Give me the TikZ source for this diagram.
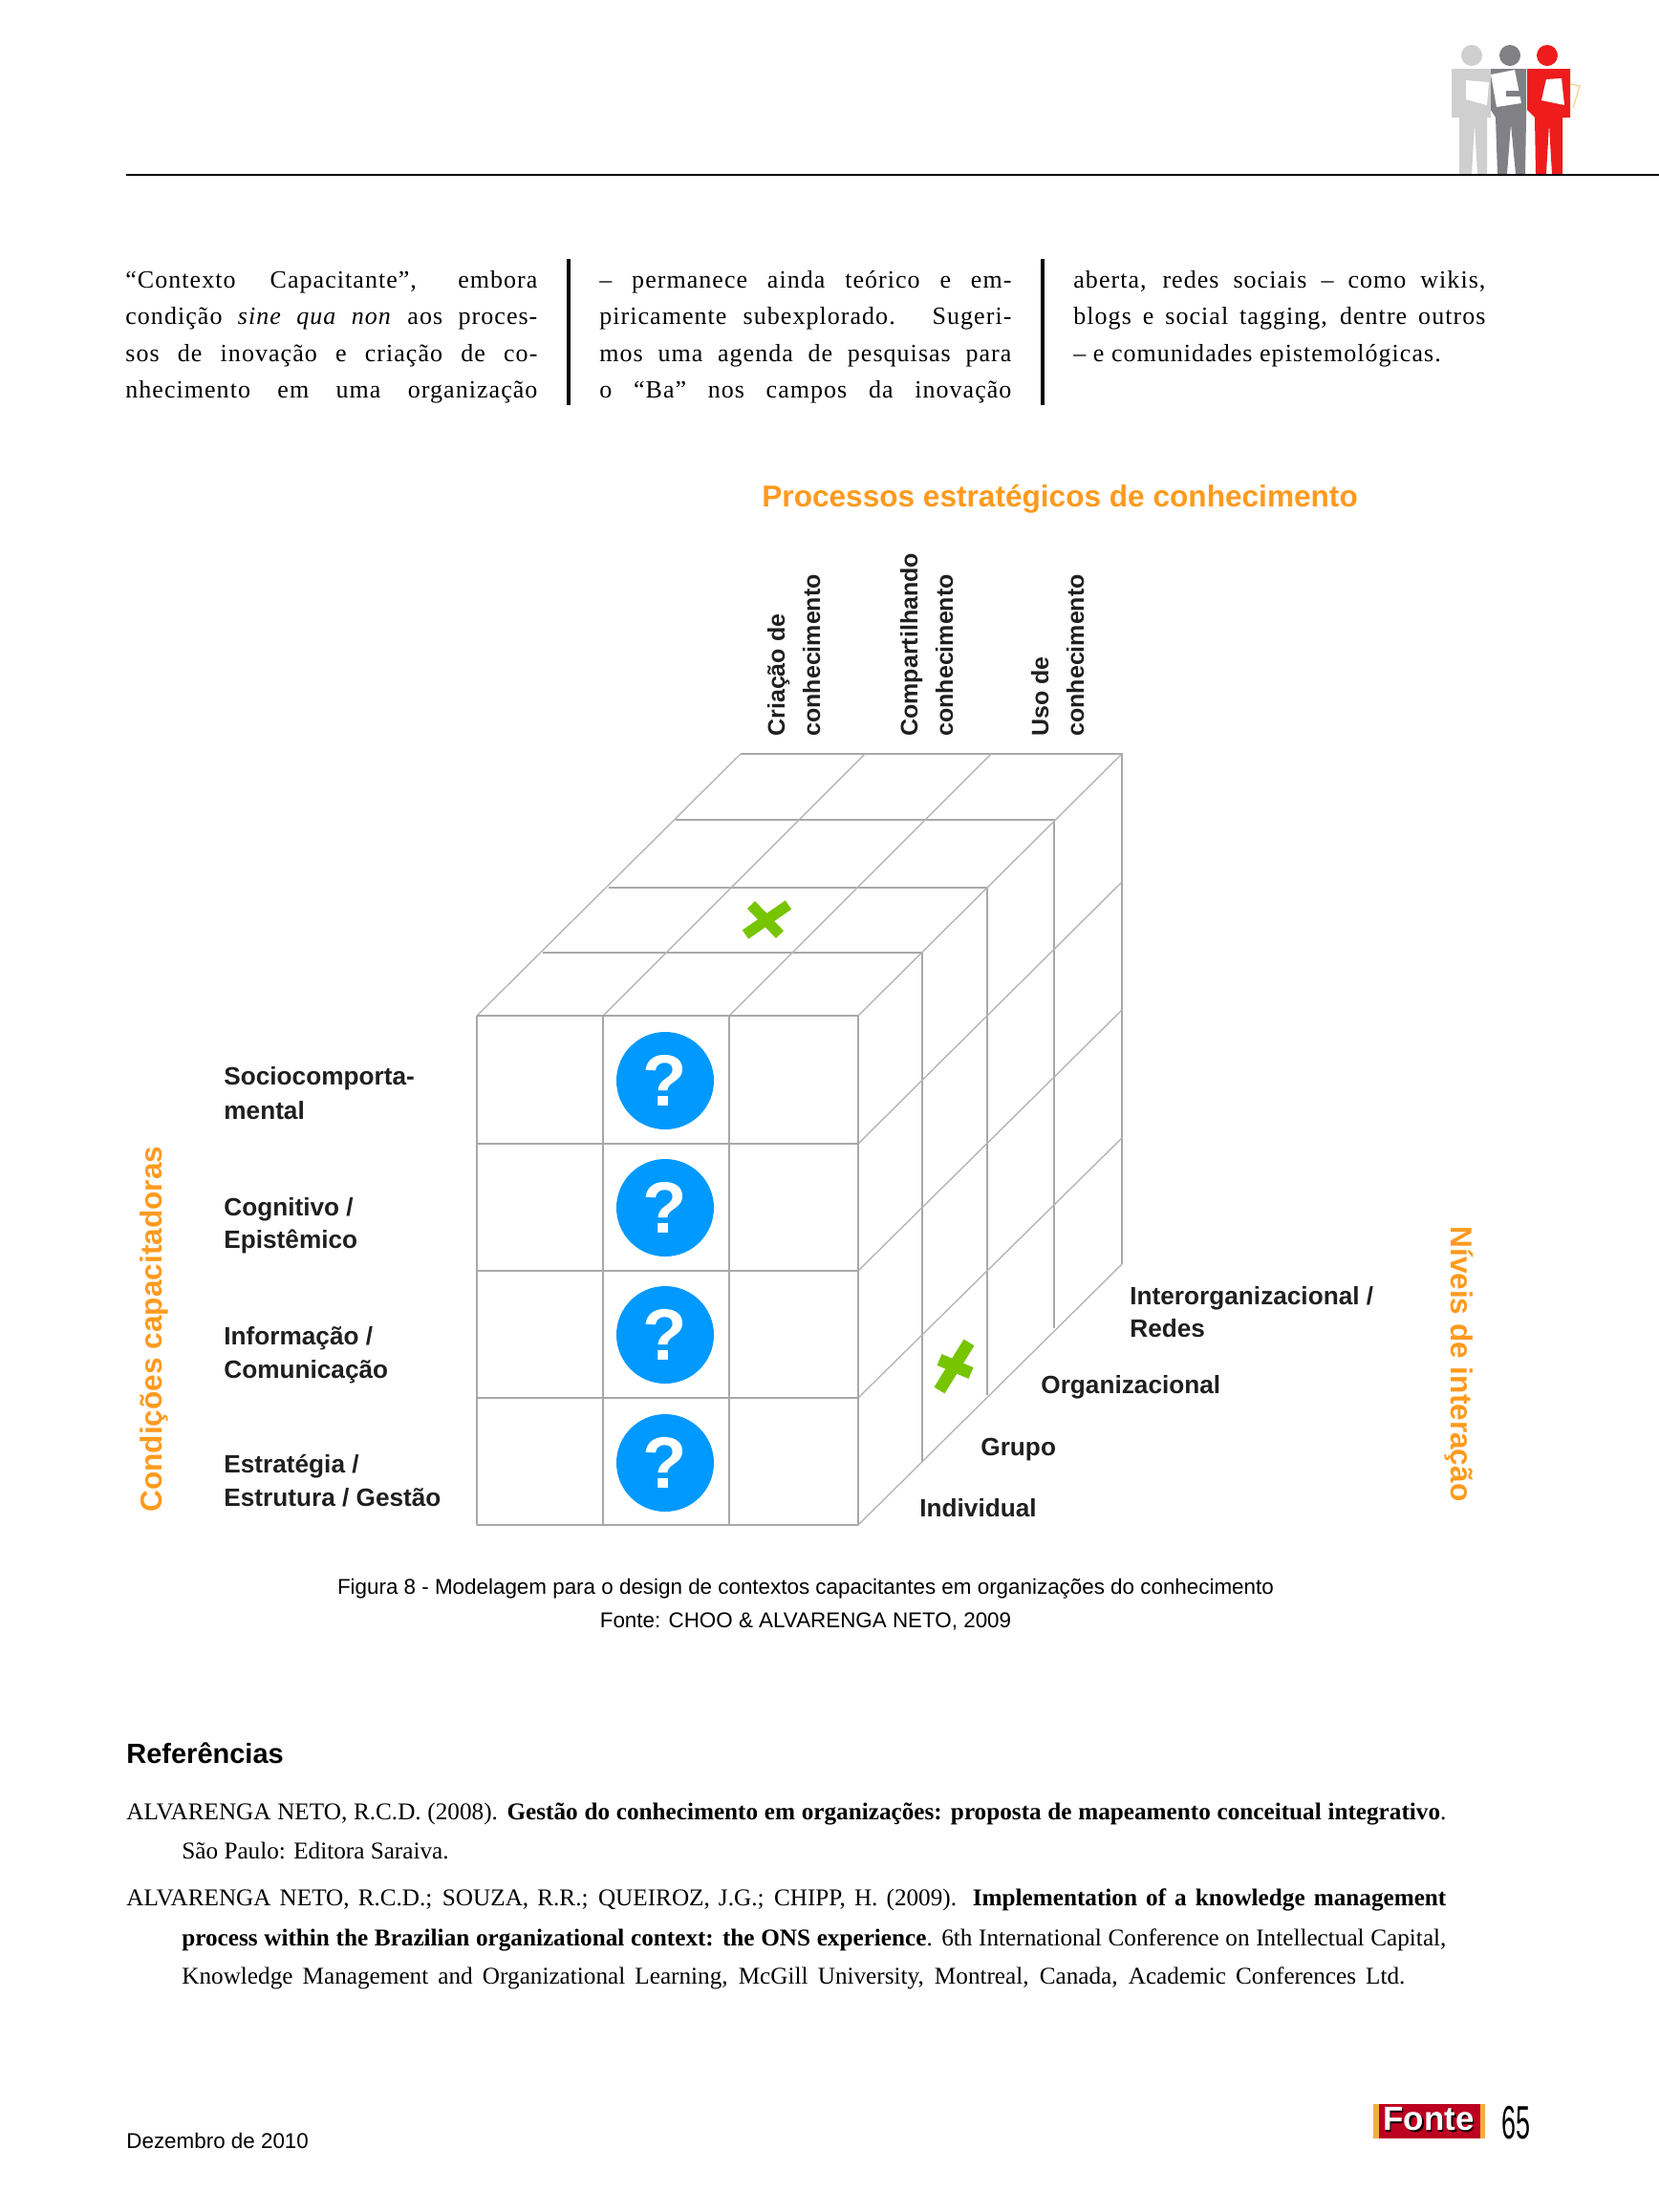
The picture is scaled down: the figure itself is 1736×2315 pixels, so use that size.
\documentclass[tikz,border=0pt]{standalone}
\usepackage{fontspec}
\setmainfont{Liberation Sans}
\newfontfamily\ser[LetterSpace=4]{Liberation Serif}
\newfontfamily\refs{Liberation Serif}
\definecolor{gridc}{HTML}{A8A8A8}
\definecolor{orangec}{HTML}{FF9A1E}
\definecolor{bluec}{HTML}{0099FF}
\definecolor{greenc}{HTML}{77C400}
\definecolor{fontered}{HTML}{BC0020}
\definecolor{fonteor}{HTML}{F2AE40}
\definecolor{p1}{HTML}{CFCFCF}
\definecolor{p2}{HTML}{808085}
\definecolor{p3}{HTML}{EE1C1C}
\tikzset{
 gridmain/.style={draw=gridc,line width=1.2pt},
 griddiag/.style={draw=gridc!85,line width=.7pt},
 lab/.style={anchor=base west,inner sep=0pt,font=\fontsize{13.1}{15}\selectfont\bfseries,text=black!88},
 collab/.style={anchor=base west,inner sep=0pt,rotate=90,font=\fontsize{12.5}{15}\selectfont\bfseries,text=black!88},
 otitle/.style={anchor=base west,inner sep=0pt,text=orangec,font=\fontsize{15.8}{18}\selectfont\bfseries},
 body/.style={anchor=base west,inner sep=0pt,font=\fontsize{13}{15}\selectfont\ser},
 refline/.style={anchor=base west,inner sep=0pt,font=\fontsize{12.6}{15}\selectfont\refs},
 captxt/.style={anchor=base,inner sep=0pt,font=\fontsize{11.2}{14}\selectfont},
 qcirc/.style={circle,fill=bluec,minimum size=51pt,inner sep=0pt,text=white,font=\fontsize{38}{40}\selectfont\bfseries},
 xmark/.style={draw=greenc,line width=5.6pt},
}
\newcommand{\just}[2]{\makebox[#1pt][s]{#2}}
\begin{document}
\begin{tikzpicture}[x=0.5pt,y=-0.5pt]
\useasboundingbox (0,0) rectangle (1736,2315);
% header icon
\fill[p1] (1540,58) circle (5.5pt);
\fill[p1] (1519,72) -- (1560,72) -- (1560,123) -- (1556,123) -- (1556,182) -- (1546,182) -- (1543,130) -- (1540,182) -- (1527,182) -- (1527,123) -- (1519,123) -- cycle;
\fill[p2] (1580,58) circle (5.5pt);
\fill[p2] (1560,72) -- (1597,72) -- (1597,123) -- (1596,182) -- (1586,182) -- (1581,130) -- (1577,182) -- (1567,182) -- (1565,123) -- (1560,115) -- cycle;
\fill[white] (1534,84) -- (1558,86) -- (1556,110) -- (1534,104) -- cycle;
\fill[white] (1560,78) -- (1585,73) -- (1592,108) -- (1566,112) -- cycle;
\fill[p2] (1576,95) -- (1592,95) -- (1592,101) -- (1576,101) -- cycle;
\fill[p3] (1619,58) circle (5.5pt);
\fill[p3] (1598,72) -- (1643,72) -- (1643,123) -- (1635,123) -- (1635,182) -- (1624,182) -- (1621,130) -- (1618,182) -- (1607,182) -- (1606,123) -- (1598,115) -- cycle;
\fill[white] (1618,83) -- (1634,82) -- (1637,110) -- (1613,105) -- cycle;
\draw[fonteor!70,line width=.5pt] (1643,88) -- (1653,90) -- (1646,113);
\draw[black,line width=1.2pt] (132,183) -- (1736,183);
% column bars
\draw[black,line width=1.6pt] (595,271) -- (595,424);
\draw[black,line width=1.6pt] (1091,271) -- (1091,424);
% body
\node[body] (a1) at (131,301) {\just{215.5}{“Contexto  Capacitante”,  embora}};
\node[body] (a2) at (131,339) {\just{215.5}{condição \textit{sine qua non} aos proces-}};
\node[body] (a3) at (131,378) {\just{215.5}{sos de inovação e criação de co-}};
\node[body] (a4) at (131,416) {\just{215.5}{nhecimento em uma organização}};
\node[body] (b1) at (627,301) {\just{215.5}{– permanece ainda teórico e em-}};
\node[body] (b2) at (627,339) {\just{215.5}{piricamente subexplorado. Sugeri-}};
\node[body] (b3) at (627,378) {\just{215.5}{mos uma agenda de pesquisas para}};
\node[body] (b4) at (627,416) {\just{215.5}{o “Ba” nos campos da inovação}};
\node[body] (c1) at (1123,301) {\just{215.5}{aberta, redes sociais – como wikis,}};
\node[body] (c2) at (1123,339) {\just{215.5}{blogs e social tagging, dentre outros}};
\node[body] (c3) at (1123,378) {– e comunidades epistemológicas.};
% titles
\node[otitle] (t1) at (797,530) {Processos estratégicos de conhecimento};
\node[otitle,rotate=90] (t2) at (169,1583) {Condições capacitadoras};
\node[otitle,rotate=-90] (t3) at (1518,1283) {Níveis de interação};
% column labels
\node[collab] (c1a) at (821,771) {Criação de};
\node[collab] (c1b) at (858,771) {conhecimento};
\node[collab] (c2a) at (960,771) {Compartilhando};
\node[collab] (c2b) at (997,771) {conhecimento};
\node[collab] (c3a) at (1097,771) {Uso de};
\node[collab] (c3b) at (1134,771) {conhecimento};
% grid: top horizontals and right verticals
\foreach \lx/\ly/\rx/\by in {775/789/1174/1323,707/858/1103/1390,637/929/1033/1460,568/997/965/1530}{
  \draw[gridmain] (\lx,\ly) -- (\rx,\ly) -- (\rx,\by);
}
% top diagonals
\foreach \fx/\bx in {499/775,631/905,763/1037,898/1174}{
  \draw[griddiag] (\fx,1063) -- (\bx,789);
}
% right diagonals
\foreach \fy/\by in {1197/923,1330/1057,1463/1191,1596/1323}{
  \draw[griddiag] (898,\fy) -- (1174,\by);
}
% front face
\foreach \y in {1063,1197,1330,1463,1596}{\draw[gridmain] (499,\y) -- (898,\y);}
\foreach \x in {499,631,763,898}{\draw[gridmain] (\x,1063) -- (\x,1596);}
% question marks
\node[qcirc] (q1) at (696,1131) {?};
\node[qcirc] (q2) at (696,1264) {?};
\node[qcirc] (q3) at (696,1397) {?};
\node[qcirc] (q4) at (696,1531) {?};
% green marks
\draw[xmark] (780,978) -- (825,947);
\draw[xmark] (786,947) -- (816,978);
\draw[xmark,line width=6.4pt] (983,1455) -- (1014,1405);
\draw[xmark,line width=6.4pt] (983,1423) -- (1016,1437);
% left labels
\node[lab] (l1) at (234,1135) {Sociocomporta-};
\node[lab] (l2) at (234,1171) {mental};
\node[lab] (l3) at (234,1272) {Cognitivo /};
\node[lab] (l4) at (234,1306) {Epistêmico};
\node[lab] (l5) at (234,1407) {Informação /};
\node[lab] (l6) at (234,1442) {Comunicação};
\node[lab] (l7) at (234,1541) {Estratégia /};
\node[lab] (l8) at (234,1576) {Estrutura / Gestão};
% right labels
\node[lab] (r1) at (1182,1365) {Interorganizacional /};
\node[lab] (r2) at (1182,1399) {Redes};
\node[lab] (r3) at (1089,1458) {Organizacional};
\node[lab] (r4) at (1026,1523) {Grupo};
\node[lab] (r5) at (962,1587) {Individual};
% caption
\node[captxt] (k1) at (843,1668) {Figura 8 - Modelagem para o design de contextos capacitantes em organizações do conhecimento};
\node[captxt] (k2) at (843,1703) {Fonte: CHOO \& ALVARENGA NETO, 2009};
% references
\node[anchor=base west,inner sep=0pt,font=\fontsize{14.5}{16}\selectfont\bfseries] (rh) at (132,1845) {Referências};
\node[refline] (r01) at (132,1904) {\just{690.5}{ALVARENGA NETO, R.C.D. (2008). \textbf{Gestão do conhecimento em organizações: proposta de mapeamento conceitual integrativo}.}};
\node[refline] (r02) at (190,1945) {São Paulo: Editora Saraiva.};
\node[refline] (r03) at (132,1994) {\just{690.5}{ALVARENGA NETO, R.C.D.; SOUZA, R.R.; QUEIROZ, J.G.; CHIPP, H. (2009). \textbf{Implementation of a knowledge management}}};
\node[refline] (r04) at (190,2036) {\just{661.5}{\textbf{process within the Brazilian organizational context: the ONS experience}. 6th International Conference on Intellectual Capital,}};
\node[refline] (r05) at (190,2076) {\just{640}{Knowledge Management and Organizational Learning, McGill University, Montreal, Canada, Academic Conferences Ltd.}};
% footer
\node[anchor=base west,inner sep=0pt,font=\fontsize{11.2}{14}\selectfont] (d) at (132,2248) {Dezembro de 2010};
\fill[fonteor] (1437,2202) rectangle (1554,2238);
\fill[fontered] (1443,2202) rectangle (1549,2238);
\node[anchor=base,inner sep=0pt,font=\fontsize{17.5}{18}\selectfont\bfseries,text=black] (f0) at (1496.5,2231) {Fonte};
\node[anchor=base,inner sep=0pt,font=\fontsize{17.5}{18}\selectfont\bfseries,text=white] (f1) at (1495,2229.5) {Fonte};
\node[anchor=base west,inner sep=0pt,font=\fontsize{24.5}{26}\selectfont,xscale=.55,transform shape] (pg) at (1571,2238) {65};
\end{tikzpicture}
\end{document}
